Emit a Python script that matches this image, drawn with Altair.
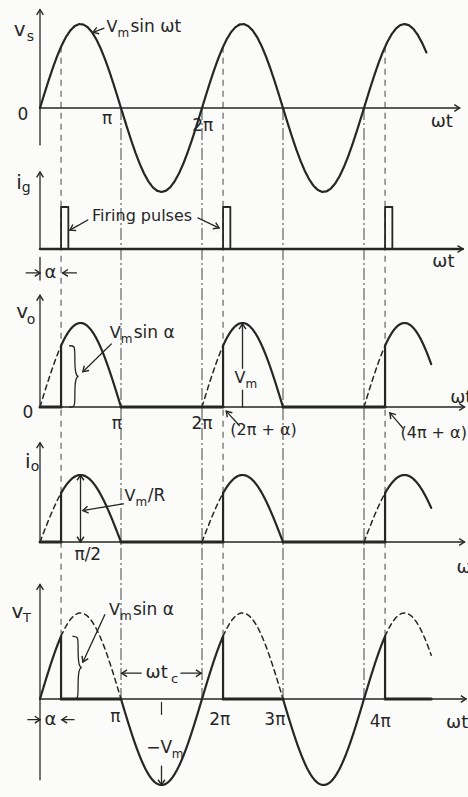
import numpy as np
import pandas as pd
import altair as alt

# ---- circuit quantities (angles in units of pi) ----
ALPHA = 0.26              # firing angle alpha
VS_END = 4.77             # supply trace stops here
T_END = 4.83              # other traces stop here
PULSE_W = 0.09            # gate pulse width
HALF_CYCLES = [0, 2, 4]   # start of each positive half-cycle
PI_MARKS = [1, 2, 3, 4]   # multiples of pi carrying a guide line
VM = 1.0                  # peak supply voltage (per unit)
R = 1.0                   # load resistance (per unit)
SIN_A = float(np.sin(np.pi * ALPHA))

# ---- layout: baseline pixel and pixels per unit of each trace ----
W, H = 468, 797
X0, XPI = 40, 81
PANEL = {"vs": (108, 84), "ig": (249, 42), "vo": (407, 84), "io": (542, 67), "vT": (699, 86)}
INK = "#262626"
GUIDE = "#444444"
BG = "#fbfbf9"
FONT = "DejaVu Sans"
ARROW = "M -1 -0.65 L 0 0 L -1 0.65"
SUB_DX = 0.14             # offset of a subscript after a capital V (units of pi)


def py(panel, v):
    base, amp = PANEL[panel]
    return base - amp * np.asarray(v, dtype=float)


lines, guides, braces, heads, labels = [], [], [], [], []
_id = [0]


def path(panel, xs, vs, w=2.0, dash="solid", store=None):
    _id[0] += 1
    ys = py(panel, vs)
    for k, (x, y) in enumerate(zip(xs, ys)):
        (lines if store is None else store).append(
            dict(id=_id[0], o=k, x=float(x), y=float(y), w=w, dash=dash))


def sine(panel, a, b, scale=VM, w=2.2, dash="solid", n=90):
    xs = np.linspace(a, b, n)
    path(panel, xs, scale * np.sin(np.pi * xs), w, dash)


def seg(panel, x1, v1, x2, v2, w=1.4, dash="solid"):
    path(panel, [x1, x2], [v1, v2], w, dash)


def head(panel, x, v, fx, fv):
    px, pyy = X0 + XPI * x, float(py(panel, v))
    qx, qy = X0 + XPI * fx, float(py(panel, fv))
    ang = float(np.degrees(np.arctan2(pyy - qy, px - qx)) % 360)
    heads.append(dict(x=x, y=pyy, ang=ang))


def arrow(panel, x1, v1, x2, v2, w=1.3):
    seg(panel, x1, v1, x2, v2, w)
    head(panel, x2, v2, x1, v1)


def text(panel, x, v, s, fs=18, dy=0):
    labels.append(dict(x=x, y=float(py(panel, v)) + dy, t=s, fs=fs))


def vm_label(panel, x, v, tail=None, tail_x=None, lead="V", fs=16):
    """capital V with subscript m, optionally followed by more text"""
    text(panel, x, v, lead, fs)
    text(panel, x + SUB_DX, v, "m", 12, dy=6)
    if tail:
        text(panel, tail_x, v, tail, 17)


def brace(panel, x_tip, x_point, v_top, v_bot):
    u = [0, 0.5, 0.5, 0.5, 1.0, 0.5, 0.5, 0.5, 0]
    t = [0, 0.0, 0.12, 0.5, 0.5, 0.5, 0.88, 1.0, 1]
    xs = [x_tip + (x_point - x_tip) * a for a in u]
    vs = [v_top + (v_bot - v_top) * b for b in t]
    path(panel, xs, vs, w=1.3, store=braces)


def guide(x, top, bottom, dash):
    _id[0] += 1
    for k, (p, v) in enumerate([top, bottom]):
        guides.append(dict(id=_id[0], o=k, x=x, y=float(py(p, v)), w=1, dash=dash))


# ---- vertical guides through all traces ----
for k in HALF_CYCLES:
    guide(k + ALPHA, ("vs", SIN_A), ("vT", SIN_A), "alpha")
for m in PI_MARKS:
    guide(m, ("vs", 0), ("vT", 0), "pi")

# ---- supply voltage v_s ----
arrow("vs", 0, -0.44, 0, 1.17)
arrow("vs", 0, 0, 5.18, 0, w=1.5)
sine("vs", 0, VS_END)
text("vs", -0.25, 0.93, "v", 20)
text("vs", -0.12, 0.93, "s", 14, dy=7)
text("vs", -0.21, -0.08, "0", 17)
text("vs", 0.83, -0.13, "π", 17)
text("vs", 2.01, -0.21, "2π", 17)
text("vs", 4.96, -0.17, "ωt", 18)
vm_label("vs", 0.89, 0.96, "sin ωt", 1.43)
arrow("vs", 0.79, 0.95, 0.655, 0.9)

# ---- gate current i_g ----
arrow("ig", 0, 0, 0, 1.83)
arrow("ig", 0, 0, 5.22, 0, w=2.4)
for k in HALF_CYCLES:
    a = k + ALPHA
    path("ig", [a, a, a + PULSE_W, a + PULSE_W], [0, 1, 1, 0], w=1.8)
text("ig", -0.26, 1.57, "i", 20)
text("ig", -0.17, 1.57, "g", 14, dy=5)
text("ig", 1.26, 0.79, "Firing pulses", 16)
arrow("ig", 0.59, 0.69, 0.37, 0.45)
arrow("ig", 1.95, 0.74, 2.21, 0.5)
text("ig", 4.98, -0.31, "ωt", 18)
arrow("ig", -0.17, -0.57, 0, -0.57)
seg("ig", 0, -0.2, 0, -0.74, w=1.3)
text("ig", 0.13, -0.57, "α", 18)
arrow("ig", 0.45, -0.57, 0.28, -0.57)


# ---- load voltage v_o and load current i_o ----
def load_trace(panel, peak, top):
    arrow(panel, 0, 0, 0, top)
    arrow(panel, 0, 0, 5.24, 0, w=1.5)
    for k in HALF_CYCLES:
        a = k + ALPHA
        sine(panel, k, a, peak, w=1.5, dash="dash", n=20)
        seg(panel, a, 0, a, peak * SIN_A, w=2.2)
        sine(panel, a, min(k + 1, T_END), peak)
    for a, b in [(0, ALPHA), (1, 2 + ALPHA), (3, 4 + ALPHA)]:
        seg(panel, a, 0, b, 0, w=3)


load_trace("vo", VM, 1.33)
text("vo", -0.22, 1.13, "v", 20)
text("vo", -0.11, 1.13, "o", 14, dy=8)
text("vo", -0.15, -0.07, "0", 17)
text("vo", 0.95, -0.2, "π", 17)
text("vo", 2.0, -0.2, "2π", 17)
text("vo", 2.76, -0.27, "(2π + α)", 16)
arrow("vo", 2.46, -0.22, 2.3, -0.05)
text("vo", 4.86, -0.31, "(4π + α)", 16)
arrow("vo", 4.48, -0.25, 4.32, -0.07)
text("vo", 5.2, 0.11, "ωt", 18)
vm_label("vo", 0.93, 0.88, "sin α", 1.41)
arrow("vo", 0.88, 0.75, 0.53, 0.42)
brace("vo", 0.36, 0.5, SIN_A, 0)
seg("vo", 2.5, 0, 2.5, 0.2, w=1.3)
arrow("vo", 2.5, 0.46, 2.5, 0.99)
vm_label("vo", 2.47, 0.35)

load_trace("io", VM / R, 1.48)
text("io", -0.15, 1.19, "i", 20)
text("io", -0.06, 1.19, "o", 14, dy=5)
vm_label("io", 1.11, 0.69, "/R", 1.44)
arrow("io", 1.03, 0.57, 0.53, 0.47)
arrow("io", 0.5, 0.5, 0.5, 1.0)
arrow("io", 0.5, 0.5, 0.5, 0.0)
text("io", 0.59, -0.19, "π/2", 17)
text("io", 5.28, -0.39, "ωt", 18)

# ---- thyristor voltage v_T ----
arrow("vT", 0, -0.94, 0, 1.33)
arrow("vT", 0, 0, 5.26, 0, w=1.5)
for k in HALF_CYCLES:
    a = k + ALPHA
    sine("vT", max(k - 1, 0), a, VM)
    seg("vT", a, 0, a, VM * SIN_A, w=2.2)
    sine("vT", a, min(k + 1, T_END), VM, w=1.5, dash="dash", n=60)
    seg("vT", a, 0, min(k + 1, T_END), 0, w=3)
text("vT", -0.28, 1.01, "v", 20)
text("vT", -0.16, 1.01, "T", 13, dy=6)
vm_label("vT", 0.92, 1.03, "sin α", 1.4)
arrow("vT", 0.8, 0.98, 0.53, 0.43)
brace("vT", 0.4, 0.54, SIN_A, 0)
arrow("vT", -0.15, -0.24, 0, -0.24)
text("vT", 0.13, -0.24, "α", 18)
arrow("vT", 0.42, -0.24, 0.27, -0.24)
text("vT", 0.93, -0.21, "π", 17)
arrow("vT", 1.25, 0.3, 1.01, 0.3)
text("vT", 1.44, 0.3, "ωt", 18)
text("vT", 1.66, 0.3, "c", 13, dy=6)
arrow("vT", 1.74, 0.3, 1.99, 0.3)
text("vT", 2.22, -0.24, "2π", 17)
text("vT", 2.9, -0.24, "3π", 17)
text("vT", 4.2, -0.27, "4π", 17)
text("vT", 5.15, -0.28, "ωt", 18)
text("vT", 1.47, -0.57, "−V", 17)
text("vT", 1.7, -0.57, "m", 12, dy=6)
arrow("vT", 1.5, -0.78, 1.5, -1.0)
seg("vT", 1.5, -0.04, 1.5, -0.18, w=1.2)

# ---- chart ----
xsc = alt.Scale(domain=[-X0 / XPI, (W - X0) / XPI], nice=False, zero=False)
ysc = alt.Scale(domain=[0, H], reverse=True, nice=False, zero=False)
X = alt.X("x:Q", scale=xsc, axis=None)
Y = alt.Y("y:Q", scale=ysc, axis=None)
DASH = alt.StrokeDash(
    "dash:N",
    scale=alt.Scale(domain=["solid", "dash", "alpha", "pi"],
                    range=[[1, 0], [5, 4], [6, 5], [12, 3, 2, 3]]),
    legend=None,
)

guide_layer = alt.Chart(pd.DataFrame(guides)).mark_line(color=GUIDE, strokeWidth=1).encode(
    X, Y, detail="id:N", order="o:Q", strokeDash=DASH)
trace_layer = alt.Chart(pd.DataFrame(lines)).mark_line(
    color=INK, strokeJoin="round", strokeCap="round").encode(
    X, Y, detail="id:N", order="o:Q", strokeDash=DASH,
    strokeWidth=alt.StrokeWidth("w:Q", scale=None))
brace_layer = alt.Chart(pd.DataFrame(braces)).mark_line(
    color=INK, strokeWidth=1.3, interpolate="basis").encode(
    X, Y, detail="id:N", order="o:Q")
head_layer = alt.Chart(pd.DataFrame(heads)).mark_point(
    shape=ARROW, filled=False, size=110, strokeWidth=1.4, color=INK, opacity=1).encode(
    X, Y, angle=alt.Angle("ang:Q", scale=None))
text_layer = alt.Chart(pd.DataFrame(labels)).mark_text(font=FONT, color=INK).encode(
    X, Y, text="t:N", size=alt.Size("fs:Q", scale=None))

chart = alt.layer(guide_layer, trace_layer, brace_layer, head_layer, text_layer).properties(
    width=W, height=H, autosize=alt.AutoSizeParams(type="none"), padding=0, background=BG
).configure_view(stroke=None)

chart.save("out.html", embed_options={"renderer": "svg", "actions": False})
